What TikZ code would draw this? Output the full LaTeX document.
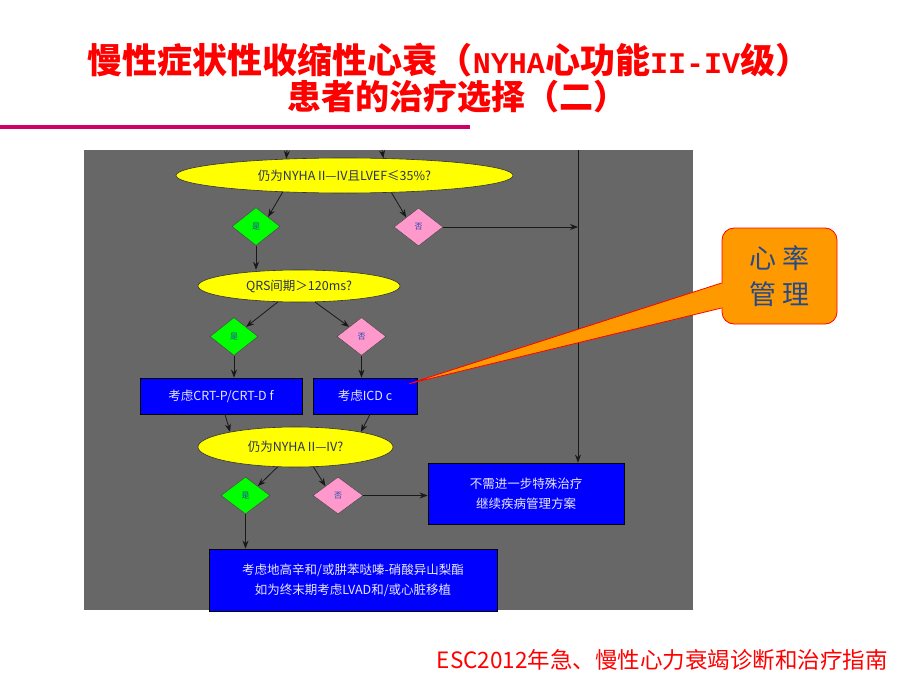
\documentclass[tikz,border=0pt]{standalone}
\usepackage{fontspec}
\newfontfamily\cjk{Noto Sans CJK SC}
\newfontfamily\latmono{Liberation Mono}
\usetikzlibrary{shapes.geometric,arrows.meta,calc}
\definecolor{titlered}{HTML}{FF0000}
\definecolor{rulemag}{HTML}{CC0066}
\definecolor{panelgray}{HTML}{676767}
\definecolor{yel}{HTML}{FFFF00}
\definecolor{grn}{HTML}{00FF00}
\definecolor{pnk}{HTML}{FF99CC}
\definecolor{bbox}{HTML}{0000FF}
\definecolor{orng}{HTML}{FF9900}
\definecolor{calltext}{HTML}{234A8C}
\definecolor{qtext}{HTML}{2A3456}
\definecolor{dtext}{HTML}{2244AA}
\definecolor{btext}{HTML}{E6E6FF}
\begin{document}
\begin{tikzpicture}[x=1pt,y=-1pt,
  arr/.style={-{Stealth[length=8pt,width=6pt]}, line width=0.8pt, draw=black!90},
  question/.style={ellipse, fill=yel, draw=black!80, line width=0.6pt, inner sep=0pt,
    font=\cjk\fontsize{12.5}{14}\selectfont, text=qtext},
  yesd/.style={diamond, fill=grn, draw=black!70, line width=0.5pt, inner sep=0pt,
    minimum width=48pt, minimum height=38pt, font=\cjk\fontsize{8}{9}\selectfont, text=dtext},
  nod/.style={diamond, fill=pnk, draw=black!70, line width=0.5pt, inner sep=0pt,
    minimum width=49pt, minimum height=38pt, font=\cjk\fontsize{8}{9}\selectfont, text=dtext},
  actbox/.style={rectangle, fill=bbox, draw=black, line width=0.8pt, inner sep=0pt,
    align=center, font=\cjk\fontsize{12.5}{20}\selectfont, text=btext},
  titletext/.style={font=\cjk\bfseries\fontsize{34}{40}\selectfont, text=titlered, inner sep=0pt},
]
\useasboundingbox (0,0) rectangle (920,690);
\fill[white] (0,0) rectangle (920,690);

% title
\node[titletext, font=\cjk\bfseries\fontsize{35}{40}\selectfont] (t1) at (449,60) {慢性症状性收缩性心衰（{\latmono\bfseries\fontsize{30}{34}\selectfont NYHA}心功能{\latmono\bfseries\fontsize{30}{34}\selectfont II-IV}级）};
\node[titletext] (t2) at (457,97) {患者的治疗选择（二）};
\fill[rulemag] (0,125) rectangle (470,129);

% panel
\fill[panelgray] (84,150) rectangle (693,610);

% nodes
\node[question, minimum width=337pt, minimum height=35pt] (e1) at (344.5,175.5)
  {仍为NYHA II—IV且LVEF≤35\%?};
\node[yesd] (g1) at (256,226.5) {是};
\node[nod] (p1) at (418.5,227) {否};
\node[question, minimum width=202pt, minimum height=32pt] (e2) at (299,286)
  {QRS间期＞120ms?};
\node[yesd] (g2) at (234,336.5) {是};
\node[nod] (p2) at (361.5,336.5) {否};
\node[actbox, minimum width=162pt, minimum height=36pt] (crt) at (221,396) {考虑CRT-P/CRT-D f};
\node[actbox, minimum width=104pt, minimum height=36pt] (icd) at (365,396) {考虑ICD c};
\node[question, minimum width=195pt, minimum height=40pt] (e3) at (295.5,447)
  {仍为NYHA II—IV?};
\node[yesd, minimum width=49pt, minimum height=37pt] (g3) at (245.5,495.5) {是};
\node[nod, minimum width=50pt, minimum height=37pt] (p3) at (338,495.5) {否};
\node[actbox, minimum width=196pt, minimum height=61pt] (nb) at (526,493.5)
  {不需进一步特殊治疗\\继续疾病管理方案};
\node[actbox, minimum width=288pt, minimum height=62pt] (bt) at (353,580)
  {考虑地高辛和/或肼苯哒嗪-硝酸异山梨酯\\如为终末期考虑LVAD和/或心脏移植};

% connectors
\coordinate (ta) at (287,150);
\coordinate (tb) at (382,150);
\coordinate (vt) at (578,150);
\draw[arr] (ta) -- (e1.164);
\draw[arr] (tb) -- (e1.24.5);
\draw[arr] (vt) -- (vt |- nb.north);
\draw[arr] (e1.195) -- (g1.north east);
\draw[arr] (e1.-20) -- (p1.north west);
\draw[arr] (p1.east) -- (p1.east -| vt);
\draw[arr] (g1.south) -- (g1.south |- e2.north);
\draw[arr] (e2.217) -- (g2.north east);
\draw[arr] (e2.-45) -- (p2.north west);
\draw[arr] (g2.south) -- (g2.south |- crt.north);
\draw[arr] (p2.south) -- (p2.south |- icd.north);
\draw[arr] ([xshift=4pt]crt.south) -- (e3.167);
\draw[arr] ([xshift=5pt]icd.south) -- (e3.13);
\draw[arr] (e3.228) -- (g3.north east);
\draw[arr] (e3.-48) -- (p3.north west);
\draw[arr] (p3.east) -- (p3.east -| nb.west);
\draw[arr] (g3.south) -- (g3.south |- bt.north);

% callout
\node[rectangle, rounded corners=12pt, fill=orng, draw=red, line width=0.8pt,
  minimum width=115pt, minimum height=96pt, inner sep=0pt, align=center,
  font=\cjk\fontsize{27}{36}\selectfont, text=calltext] (cb) at (779.5,276)
  {心\hspace{6pt}率\\管\hspace{6pt}理};
\coordinate (tip) at ([xshift=-8pt,yshift=-6pt]icd.north east);
\fill[orng] ([yshift=-7pt]cb.west) -- (tip) -- ([yshift=-32pt]cb.west) -- cycle;
\draw[red, line width=0.8pt, line join=round] ([yshift=-7pt]cb.west) -- (tip) -- ([yshift=-32pt]cb.west);
\fill[orng] ([yshift=-7.8pt,xshift=-0.6pt]cb.west) rectangle ([yshift=-31.2pt,xshift=2pt]cb.west);

% footer
\node[font=\cjk\fontsize{22.5}{26}\selectfont, text=titlered, inner sep=0pt, anchor=east]
  (ft) at (888,660) {ESC2012年急、慢性心力衰竭诊断和治疗指南};
\end{tikzpicture}
\end{document}
